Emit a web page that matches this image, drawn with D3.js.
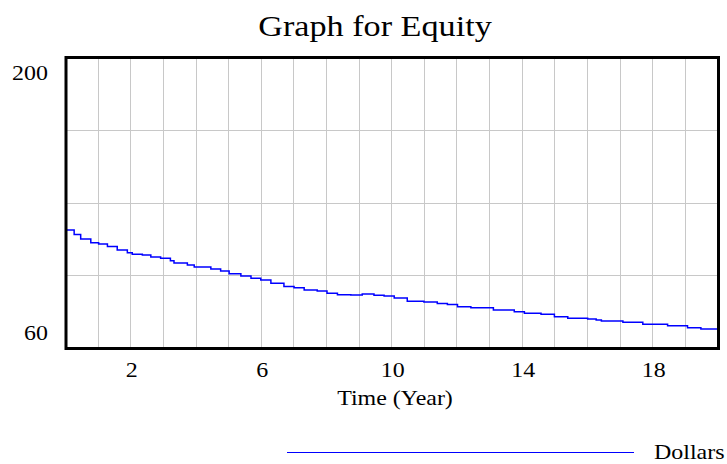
<!DOCTYPE html>
<html>
<head>
<meta charset="utf-8">
<script src="https://cdn.jsdelivr.net/npm/d3@7"></script>
<style>
  html, body { margin: 0; padding: 0; background: #fff; }
  svg { display: block; font-family: "Liberation Serif", "Times New Roman", serif; }
</style>
</head>
<body>
<svg id="chart" width="727" height="464"></svg>
<script>
const title = "Graph for Equity";
const xLabel = "Time (Year)";
const seriesName = "Dollars";
const yTicks = [60, 200];
const xTicks = [2, 6, 10, 14, 18];
const times = [0, 0.25, 0.45, 0.76, 1.0, 1.27, 1.57, 1.88, 2.03, 2.34, 2.6, 2.9, 3.2, 3.31, 3.72, 3.93, 4.13, 4.44, 4.74, 5.0, 5.36, 5.67, 5.97, 6.28, 6.68, 6.99, 7.3, 7.7, 8.0, 8.32, 8.73, 9.08, 9.44, 9.75, 10.06, 10.46, 10.97, 11.38, 11.69, 12.0, 12.41, 13.1, 13.43, 13.74, 14.05, 14.56, 14.97, 15.38, 15.99, 16.25, 16.41, 17.07, 17.68, 18.44, 19.05, 19.46, 20];
const values = [116.7, 114.6, 112.4, 110.6, 110.0, 108.7, 107.1, 105.8, 105.0, 104.7, 103.7, 103.1, 101.9, 100.8, 99.8, 98.9, 98.9, 97.9, 96.9, 95.6, 94.5, 93.4, 92.6, 91.0, 89.4, 88.9, 87.8, 87.3, 86.2, 85.5, 85.3, 85.8, 85.2, 84.9, 83.9, 82.3, 82.0, 81.2, 80.7, 79.7, 79.2, 78.1, 78.1, 77.3, 76.5, 76.0, 74.9, 74.1, 73.8, 73.3, 72.8, 72.2, 71.2, 70.5, 69.5, 68.9, 68.9];

(function () {
const svg = d3.select("#chart");
const FONT = "Liberation Serif, Times New Roman, serif";
const pL = 66, pR = 718.5, pT = 57.5, pB = 347.5;
const STRETCH = 1.14;

const x = d3.scaleLinear().domain([0, 20]).range([pL, pR]);
const y = d3.scaleLinear().domain([60, 200]).range([pB, pT]);

// grid
const grid = svg.append("g").attr("stroke", "#c8c8c8").attr("stroke-width", 1);
grid.selectAll("line.v").data(d3.range(1, 20)).join("line")
  .attr("class", "v")
  .attr("x1", d => Math.round(x(d)) - 0.5).attr("x2", d => Math.round(x(d)) - 0.5)
  .attr("y1", pT).attr("y2", pB);
grid.selectAll("line.h").data(d3.range(1, 4).map(i => 60 + i * 35)).join("line")
  .attr("class", "h")
  .attr("y1", d => Math.round(y(d)) + 0.5).attr("y2", d => Math.round(y(d)) + 0.5)
  .attr("x1", pL).attr("x2", pR);

// data line
const data = times.map((t, i) => ({ t, v: values[i] }));
const line = d3.line().x(d => x(d.t)).y(d => y(d.v)).curve(d3.curveStepAfter);
svg.append("path").datum(data)
  .attr("fill", "none").attr("stroke", "#0000ff").attr("stroke-width", 1.5)
  .attr("d", line);

// frame
svg.append("rect").attr("x", pL).attr("y", pT)
  .attr("width", pR - pL).attr("height", pB - pT + 1)
  .attr("fill", "none").attr("stroke", "#000").attr("stroke-width", 3);

// stretched text helper
function stretchText(sel) {
  sel.each(function () {
    const n = this;
    const w = n.getComputedTextLength();
    n.setAttribute("textLength", (w * STRETCH).toFixed(1));
    n.setAttribute("lengthAdjust", "spacingAndGlyphs");
  });
}

const yAxis = svg.append("g").attr("transform", `translate(${pL - 18},0)`)
  .call(d3.axisLeft(y).tickValues(yTicks).tickSize(0).tickPadding(0));
yAxis.select(".domain").remove();
yAxis.selectAll("text").attr("font-family", FONT).attr("font-size", 21)
  .attr("fill", "#000").attr("dy", d => d === 200 ? "21.5px" : "-8.5px")
  .call(stretchText);

const xAxis = svg.append("g").attr("transform", `translate(0,${pB})`)
  .call(d3.axisBottom(x).tickValues(xTicks).tickSize(0).tickPadding(0));
xAxis.select(".domain").remove();
xAxis.selectAll("text").attr("font-family", FONT).attr("font-size", 21).attr("fill", "#000")
  .attr("dy", "29px").call(stretchText);

svg.append("text").attr("x", 395).attr("y", 405).attr("text-anchor", "middle")
  .attr("font-family", FONT).attr("font-size", 21).attr("fill", "#000").text(xLabel)
  .call(stretchText);

svg.append("text").attr("x", 375).attr("y", 35.5).attr("text-anchor", "middle")
  .attr("font-family", FONT).attr("font-size", 30).attr("fill", "#000").text(title)
  .call(stretchText);

// legend
svg.append("line").attr("x1", 287).attr("x2", 634).attr("y1", 452.5).attr("y2", 452.5)
  .attr("stroke", "#0000ff").attr("stroke-width", 1.2);
svg.append("text").attr("x", 654).attr("y", 459).attr("font-family", FONT)
  .attr("font-size", 21).attr("fill", "#000").text(seriesName).call(stretchText);
})();
</script>
</body>
</html>
